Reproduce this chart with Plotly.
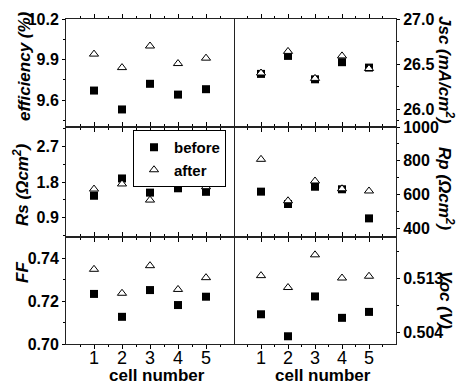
import plotly.graph_objects as go

cells = [1, 2, 3, 4, 5]
eff_before = [9.67, 9.53, 9.72, 9.64, 9.68]
eff_after = [9.94, 9.84, 10.00, 9.87, 9.91]
jsc_before = [26.39, 26.59, 26.33, 26.52, 26.46]
jsc_after = [26.40, 26.64, 26.34, 26.59, 26.45]
rs_before = [1.45, 1.89, 1.53, 1.64, 1.55]
rs_after = [1.62, 1.75, 1.34, 1.77, 1.68]
rp_before = [618, 545, 647, 632, 460]
rp_after = [809, 564, 681, 635, 622]
ff_before = [0.7234, 0.7127, 0.7252, 0.7182, 0.7221]
ff_after = [0.7349, 0.7237, 0.7366, 0.7255, 0.7310]
voc_before = [0.5070, 0.5033, 0.5100, 0.5064, 0.5074]
voc_after = [0.5135, 0.5115, 0.5170, 0.5131, 0.5134]

eff_ticks = ["9.6", "9.9", "10.2"]
jsc_ticks = ["26.0", "26.5", "27.0"]
rs_ticks = ["0.9", "1.8", "2.7"]
rp_ticks = ["400", "600", "800", "1000"]
ff_ticks = ["0.70", "0.72", "0.74"]
voc_ticks = ["0.504", "0.513"]

W, H = 458, 385
L, R, T, B = 66, 62, 19, 41
PW, PH = W - L - R, H - T - B

def px(x):
    return (x - L) / PW

def py(y):
    return (H - B - y) / PH

colx = [[0, px(234)], [px(234), 1]]
rowy = [[py(127), 1], [py(237), py(127)], [0, py(237)]]

FONT = "Liberation Sans"
fig = go.Figure()

panels = [
    (0, 0, eff_before, eff_after, [9.4, 10.2], eff_ticks, [9.45, 9.75, 10.05], False),
    (0, 1, jsc_before, jsc_after, [25.8, 27.0], jsc_ticks, [25.875, 26.25, 26.75], False),
    (1, 0, rs_before, rs_after, [0.4, 3.2], rs_ticks, [0.45, 1.35, 2.25, 3.15], True),
    (1, 1, rp_before, rp_after, [350, 1000], rp_ticks, [500, 700, 900], False),
    (2, 0, ff_before, ff_after, [0.70, 0.75], ff_ticks, [0.71, 0.73], False),
    (2, 1, voc_before, voc_after, [0.502, 0.520], voc_ticks, [0.5085, 0.5175], False),
]

layout = {}
for i, (r, c, bef, aft, rng, tt, mv, sl) in enumerate(panels):
    n = i + 1
    xa = "x" if n == 1 else f"x{n}"
    ya = "y" if n == 1 else f"y{n}"
    fig.add_trace(go.Scatter(
        x=cells, y=bef, mode="markers", name="before", xaxis=xa, yaxis=ya,
        marker=dict(symbol="square", size=8, color="black", line=dict(width=0)),
        showlegend=sl, legendrank=1))
    fig.add_trace(go.Scatter(
        x=cells, y=aft, mode="markers", name="after", xaxis=xa, yaxis=ya,
        marker=dict(symbol="triangle-up", size=8, color="white",
                    line=dict(width=1, color="black")),
        showlegend=sl, legendrank=2))
    layout[f"xaxis{'' if n == 1 else n}"] = dict(
        domain=colx[c], range=[0, 6], anchor=ya,
        tickvals=cells, ticktext=[str(v) for v in cells],
        ticks="outside", ticklen=4, tickcolor="black",
        showticklabels=(r == 2), ticklabelstandoff=-7,
        tickfont=dict(family=FONT, size=18, color="black"),
        minor=dict(tickvals=[0.5, 1.5, 2.5, 3.5, 4.5, 5.5], ticklen=2, ticks="outside", tickcolor="black"),
        showline=True, linecolor="#222", linewidth=1, mirror="allticks",
        showgrid=False, zeroline=False, fixedrange=True)
    layout[f"yaxis{'' if n == 1 else n}"] = dict(
        domain=rowy[r], range=rng, anchor=xa,
        side="left" if c == 0 else "right",
        tickvals=[float(t) for t in tt], ticktext=tt,
        ticks="outside", ticklen=3, tickcolor="black",
        tickfont=dict(family=FONT, size=16, color="black", weight="bold"),
        minor=dict(tickvals=mv, ticklen=2, ticks="outside", tickcolor="black"),
        showline=True, linecolor="#222", linewidth=1, mirror=(c == 0),
        showgrid=False, zeroline=False, fixedrange=True)

tfont = dict(family=FONT, size=17, color="black", weight="bold", style="italic")
titles = [
    ("efficiency (%)", 24, 66, -90),
    ("Rs (Ωcm<sup>2</sup>)", 21, 185, -90),
    ("FF", 22, 273, -90),
    ("Jsc (mA/cm<sup>2</sup>)", 446, 70, 90),
    ("Rp (Ωcm<sup>2</sup>)", 446, 189, 90),
    ("Voc (V)", 446, 300, 90),
]
ann = []
for txt, x, y, ang in titles:
    ann.append(dict(text=txt, x=px(x), y=py(y), xref="paper", yref="paper",
                    showarrow=False, textangle=ang, font=tfont,
                    xanchor="center", yanchor="middle"))
for x in (157, 323):
    ann.append(dict(text="cell number", x=px(x), y=py(375), xref="paper", yref="paper",
                    showarrow=False, xanchor="center", yanchor="middle",
                    font=dict(family=FONT, size=17, color="black", weight="bold")))

fig.update_layout(
    width=W, height=H, margin=dict(l=L, r=R, t=T, b=B),
    paper_bgcolor="white", plot_bgcolor="white",
    showlegend=True,
    legend=dict(x=px(133), y=py(130), xanchor="left", yanchor="top",
                bordercolor="black", borderwidth=1, bgcolor="white",
                font=dict(family=FONT, size=15, color="black", weight="bold"),
                tracegroupgap=0),
    annotations=ann,
    **layout)

fig.write_html("out.html")
